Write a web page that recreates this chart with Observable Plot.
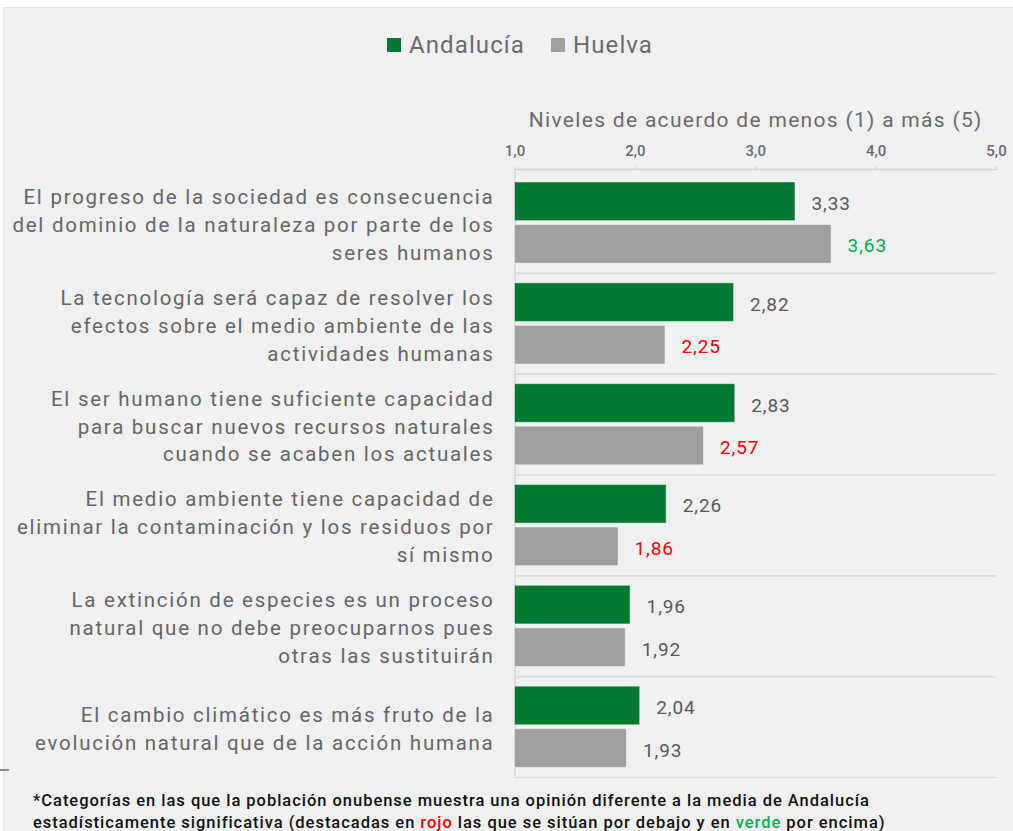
<!DOCTYPE html>
<html lang="es">
<head>
<meta charset="utf-8">
<script src="https://cdn.jsdelivr.net/npm/d3@7"></script>
<script src="https://cdn.jsdelivr.net/npm/@observablehq/plot@0.6"></script>
<style>
  html, body { margin: 0; padding: 0; background: #ffffff; }
  body { width: 1013px; height: 831px; position: relative; overflow: hidden; font-family: Roboto, "Noto Sans", sans-serif; }
  #panel { position: absolute; left: 3px; top: 7px; right: 0; bottom: 0; background: #f0f0f0; border-left: 1px solid #e4e4e4; border-top: 1px solid #e4e4e4; }
  #corner { position: absolute; left: 0; top: 769px; width: 9px; height: 2px; background: #8c8c8c; }
  #wrap { position: absolute; left: 0; top: 0; width: 1013px; }
  #legend { height: 85px; position: relative; }
  .lg { position: absolute; top: 31px; display: flex; align-items: center; font-size: 24px; letter-spacing: 1.1px; color: #6b6b6b; }
  .sw { width: 14px; height: 14px; margin-right: 8px; }
  svg { display: block; overflow: visible; }
  g[aria-label="x-axis label"] text { font-size: 21px; font-weight: 400; letter-spacing: 1.3px; fill: #6b6b6b; }
  #note { margin: 5px 0 0 33px; font-family: Roboto, sans-serif; font-weight: 500; font-size: 16.5px; letter-spacing: 0.97px; line-height: 22px; color: #111; white-space: nowrap; }
</style>
</head>
<body>
<div id="panel"></div>
<div id="corner"></div>
<div id="wrap">
  <div id="legend"></div>
  <div id="chart"></div>
  <div id="note"></div>
</div>
<script>
// ---- data ----
const categories = [
  "El progreso de la sociedad es consecuencia\ndel dominio de la naturaleza por parte de los\nseres humanos",
  "La tecnología será capaz de resolver los\nefectos sobre el medio ambiente de las\nactividades humanas",
  "El ser humano tiene suficiente capacidad\npara buscar nuevos recursos naturales\ncuando se acaben los actuales",
  "El medio ambiente tiene capacidad de\neliminar la contaminación y los residuos por\nsí mismo",
  "La extinción de especies es un proceso\nnatural que no debe preocuparnos pues\notras las sustituirán",
  "El cambio climático es más fruto de la\nevolución natural que de la acción humana"
];
const series = ["Andalucía", "Huelva"];
const andalucia = [3.33, 2.82, 2.83, 2.26, 1.96, 2.04];
const huelva = [3.63, 2.25, 2.57, 1.86, 1.92, 1.93];
const huelvaSignificance = ["above", "below", "below", "below", "", ""];
const xTicks = [1, 2, 3, 4, 5];
const axisTitle = "Niveles de acuerdo de menos (1) a más (5)";
const footnoteParts = [
  ["*Categorías en las que la población onubense muestra una opinión diferente a la media de Andalucía", null],
  ["\n", null],
  ["estadísticamente significativa (destacadas en ", null],
  ["rojo", "below"],
  [" las que se sitúan por debajo y en ", null],
  ["verde", "above"],
  [" por encima)", null]
];

// ---- styles ----
const seriesColor = {"Andalucía": "#007a33", "Huelva": "#a09f9d"};
const sigColor = {"above": "#00b050", "below": "#ff0000", "": "#595959"};
const slot = {"Andalucía": [0.099, 0.482], "Huelva": [0.521, 0.904]};

// ---- table ----
const rows = [];
categories.forEach((c, i) => {
  rows.push({i, category: c, series: "Andalucía", value: andalucia[i], sig: ""});
  rows.push({i, category: c, series: "Huelva", value: huelva[i], sig: huelvaSignificance[i]});
});
const catRows = categories.map((c, i) => ({i, category: c}));
const fmt = v => v.toFixed(2).replace(".", ",");

// ---- legend ----
const legend = document.getElementById("legend");
const legendLeft = {"Andalucía": 387, "Huelva": 551};
series.forEach(s => {
  const d = document.createElement("div");
  d.className = "lg";
  d.style.left = legendLeft[s] + "px";
  d.innerHTML = `<span class="sw" style="background:${seriesColor[s]}"></span><span>${s}</span>`;
  legend.appendChild(d);
});

// ---- chart ----
const valueLabels = Plot.text(rows, {
  x: "value",
  y: d => d.i + (slot[d.series][0] + slot[d.series][1]) / 2,
  text: d => fmt(d.value),
  dx: 16,
  dy: 2,
  textAnchor: "start",
  fill: d => sigColor[d.sig],
  fontWeight: d => d.sig ? 600 : 400,
  fontSize: 19
});
const categoryLabels = Plot.text(catRows, {
  x: 1,
  y: d => d.i + 0.5,
  text: "category",
  dx: -20.5,
  textAnchor: "end",
  lineHeight: 1.36,
  fill: "#666666",
  fontSize: 20.5
});
const chart = Plot.plot({
  width: 1013,
  height: 700,
  marginLeft: 514.5,
  marginRight: 17,
  marginTop: 87,
  marginBottom: 8,
  style: {background: "transparent", fontFamily: "Roboto, 'Noto Sans', sans-serif", overflow: "visible"},
  x: {domain: [1, 5]},
  y: {domain: [categories.length, 0], axis: null},
  marks: [
    Plot.ruleY(d3.range(1, categories.length + 1), {stroke: "#dadada", strokeWidth: 1.6}),
    Plot.ruleY([0], {stroke: "#d4d4d4", strokeWidth: 1.6, dy: -3}),
    Plot.ruleX([1], {y1: 0, y2: categories.length, stroke: "#d8d8d8", strokeWidth: 1.6, dy: -1}),
    Plot.axisX({
      anchor: "top",
      ticks: xTicks,
      tickFormat: d => d.toFixed(1).replace(".", ","),
      tickSize: 3,
      tickPadding: 11,
      dy: -3,
      stroke: "#d4d4d4",
      strokeWidth: 1.6,
      fill: "#6b6b6b",
      fontSize: 15,
      fontWeight: 500,
      label: axisTitle,
      labelAnchor: "center",
      labelArrow: "none",
      labelOffset: 60
    }),
    Plot.rect(rows, {
      x1: 1,
      x2: "value",
      y1: d => d.i + slot[d.series][0],
      y2: d => d.i + slot[d.series][1],
      fill: d => seriesColor[d.series],
      stroke: "#ffffff",
      strokeOpacity: 0.45,
      strokeWidth: 1
    }),
    valueLabels,
    categoryLabels
  ]
});
document.getElementById("chart").appendChild(chart);
// letter spacing for the two text layers (value labels first, category labels second)
const textLayers = chart.querySelectorAll('g[aria-label="text"]');
if (textLayers[0]) textLayers[0].style.letterSpacing = "0.9px";
if (textLayers[1]) textLayers[1].style.letterSpacing = "1.74px";

// ---- footnote ----
const note = document.getElementById("note");
footnoteParts.forEach(([t, s]) => {
  if (t === "\n") { note.appendChild(document.createElement("br")); return; }
  const sp = document.createElement("span");
  sp.textContent = t;
  if (s) sp.style.color = sigColor[s];
  note.appendChild(sp);
});
</script>
</body>
</html>
